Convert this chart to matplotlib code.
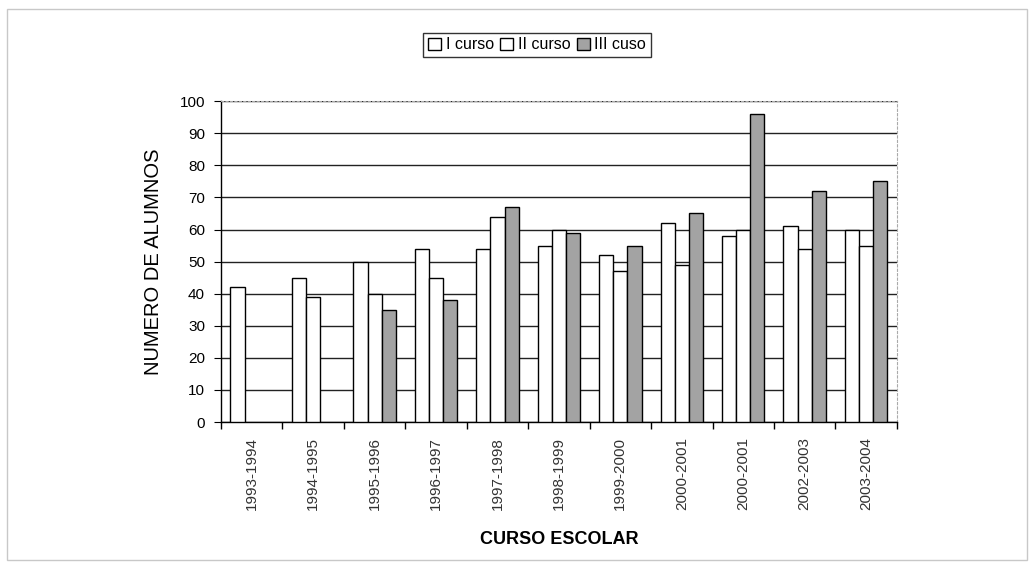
import numpy as np
import matplotlib
matplotlib.use("Agg")
import matplotlib.pyplot as plt
from matplotlib.patches import Rectangle

plt.rcParams['font.family'] = ['Liberation Sans', 'DejaVu Sans']

# data
cursos = ["1993-1994", "1994-1995", "1995-1996", "1996-1997", "1997-1998",
          "1998-1999", "1999-2000", "2000-2001", "2000-2001", "2002-2003",
          "2003-2004"]
curso_1 = [42, 45, 50, 54, 54, 55, 52, 62, 58, 61, 60]
curso_2 = [np.nan, 39, 40, 45, 64, 60, 47, 49, 60, 54, 55]
curso_3 = [np.nan, np.nan, 35, 38, 67, 59, 55, 65, 96, 72, 75]
series_names = ["I curso", "II curso", "III cuso"]

fig = plt.figure(figsize=(10.35, 5.62), dpi=100)
ax = fig.add_axes([0.2135, 0.249, 0.653, 0.571])

# thin frame around the whole chart
fig.patches.append(Rectangle((0.007, 0.003), 0.985, 0.981, transform=fig.transFigure,
                             fill=False, edgecolor="#c8c8c8", linewidth=1))

x = np.arange(len(cursos))
w = 0.23
ax.bar(x - w, curso_1, w, color="white", edgecolor="black", linewidth=1, label=series_names[0], zorder=3)
ax.bar(x, curso_2, w, color="white", edgecolor="black", linewidth=1, label=series_names[1], zorder=3)
ax.bar(x + w, curso_3, w, color="#a3a3a3", edgecolor="black", linewidth=1, label=series_names[2], zorder=3)

ax.set_xlim(-0.5, len(cursos) - 0.5)
ax.set_ylim(0, 100)
ax.set_yticks(range(0, 101, 10))
ax.yaxis.grid(True, color="#222222", linewidth=1)
ax.set_axisbelow(True)

ax.set_xticks(x)
ax.set_xticklabels(cursos, rotation=90, fontsize=11, color="#333333")
ax.tick_params(axis="x", length=0, pad=11)
ax.set_xticks(np.arange(-0.5, len(cursos), 1), minor=True)
ax.tick_params(axis="x", which="minor", length=5, direction="out", width=1)
ax.tick_params(axis="y", length=5, direction="out", labelsize=11, pad=6.5)

for s in ["top", "right"]:
    ax.spines[s].set_color("#aaaaaa")
    ax.spines[s].set_linestyle((0, (2, 2)))
    ax.spines[s].set_linewidth(0.8)
for s in ["left", "bottom"]:
    ax.spines[s].set_color("black")
    ax.spines[s].set_linewidth(1)

ax.set_ylabel("NUMERO DE ALUMNOS", fontsize=14.5, labelpad=12)
ax.set_xlabel("CURSO ESCOLAR", fontsize=13, fontweight="bold", labelpad=15,
              fontstretch="condensed")

leg = fig.legend(loc="center", bbox_to_anchor=(0.519, 0.92), ncol=3, fontsize=11.5,
                 frameon=True, fancybox=False, edgecolor="black", handlelength=0.8,
                 handleheight=0.8, handletextpad=0.3, columnspacing=0.4,
                 borderpad=0.3)
leg.get_frame().set_linewidth(1)

fig.savefig("out.png", dpi=100)
